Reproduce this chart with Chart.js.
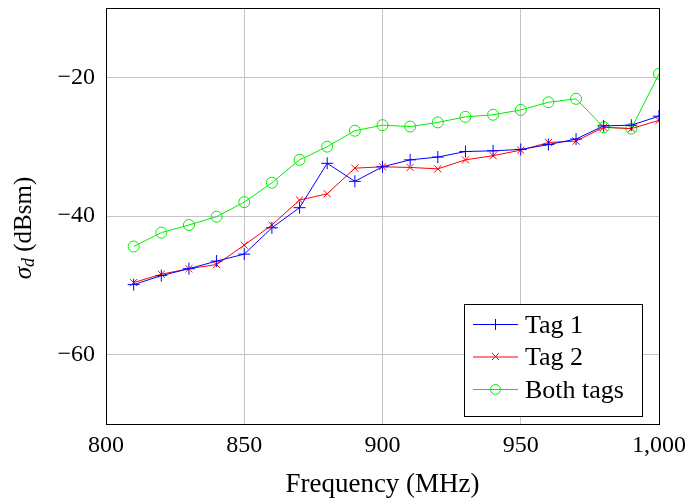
<!DOCTYPE html>
<html>
<head>
<meta charset="utf-8">
<script src="https://cdn.jsdelivr.net/npm/chart.js@4"></script>
<style>
  html, body { margin: 0; padding: 0; background: #fff; }
  #wrap { width: 690px; height: 499px; }
</style>
</head>
<body>
<div id="wrap"><canvas id="chart" width="690" height="499"></canvas></div>
<script>
// frequencies (MHz)
const freqs = [810, 820, 830, 840, 850, 860, 870, 880, 890, 900, 910, 920, 930, 940, 950, 960, 970, 980, 990, 1000];
// sigma_d (dBsm)
const tag1 = [-49.9, -48.6, -47.6, -46.5, -45.5, -41.7, -38.8, -32.4, -35.0, -32.9, -31.9, -31.5, -30.7, -30.6, -30.4, -29.7, -28.9, -27.0, -26.9, -25.6];
const tag2 = [-49.6, -48.4, -47.6, -47.0, -44.2, -41.3, -37.7, -36.8, -33.1, -32.9, -33.0, -33.2, -31.9, -31.3, -30.5, -29.4, -29.2, -27.2, -27.4, -26.2];
const bothTags = [-44.4, -42.4, -41.3, -40.1, -38.0, -35.2, -31.9, -30.0, -27.7, -26.9, -27.1, -26.5, -25.7, -25.4, -24.7, -23.6, -23.1, -27.2, -27.4, -19.5];

const xTicks = [800, 850, 900, 950, 1000];
const xTickLabels = ['800', '850', '900', '950', '1,000'];
const yTicks = [-60, -40, -20];

const serif = '"Liberation Serif", "Times New Roman", serif';

const toPoints = (vals) => vals.map((v, i) => ({ x: freqs[i], y: v }));

// frame, axis titles (y one has a subscript), legend inside the plot
const extras = {
  id: 'extras',
  afterDraw(chart) {
    const ctx = chart.ctx;
    const a = chart.chartArea;
    ctx.save();
    ctx.strokeStyle = '#000';
    ctx.lineWidth = 1;
    ctx.strokeRect(a.left + 0.5, a.top + 0.5, a.right - a.left, a.bottom - a.top);

    // x title
    ctx.fillStyle = '#000';
    ctx.font = '27px ' + serif;
    ctx.textAlign = 'center';
    ctx.textBaseline = 'alphabetic';
    ctx.fillText('Frequency (MHz)', (a.left + a.right) / 2, 492);
    ctx.textAlign = 'left';

    // y title: sigma_d (dBsm)
    ctx.translate(24, 228);
    ctx.rotate(-Math.PI / 2);
    ctx.textBaseline = 'middle';
    ctx.font = 'italic 25px ' + serif;
    const w1 = ctx.measureText('σ').width;
    ctx.font = 'italic 18px ' + serif;
    const w2 = ctx.measureText('d').width;
    ctx.font = '25px ' + serif;
    const w3 = ctx.measureText(' (dBsm)').width;
    let x0 = -(w1 + w2 + w3) / 2;
    ctx.font = 'italic 25px ' + serif;
    ctx.fillText('σ', x0, 0);
    ctx.font = 'italic 18px ' + serif;
    ctx.fillText('d', x0 + w1, 5);
    ctx.font = '25px ' + serif;
    ctx.fillText(' (dBsm)', x0 + w1 + w2, 0);
    ctx.restore();

    // legend box
    ctx.save();
    const bx = 464, by = 304, bw = 178, bh = 112;
    ctx.fillStyle = '#fff';
    ctx.fillRect(bx, by, bw, bh);
    ctx.strokeStyle = '#000';
    ctx.lineWidth = 1;
    ctx.strokeRect(bx + 0.5, by + 0.5, bw, bh);
    chart.data.datasets.forEach((ds, i) => {
      const y = by + 20 + i * 32.5;
      ctx.strokeStyle = ds.borderColor;
      ctx.lineWidth = 1;
      ctx.beginPath();
      ctx.moveTo(bx + 9, y + 0.5);
      ctx.lineTo(bx + 54, y + 0.5);
      ctx.stroke();
      const cx = bx + 31.5;
      ctx.beginPath();
      if (ds.pointStyle === 'cross') {
        ctx.moveTo(cx - 5, y + 0.5); ctx.lineTo(cx + 5, y + 0.5);
        ctx.moveTo(cx, y - 5); ctx.lineTo(cx, y + 6);
      } else if (ds.pointStyle === 'crossRot') {
        ctx.moveTo(cx - 3.5, y - 3.5); ctx.lineTo(cx + 3.5, y + 3.5);
        ctx.moveTo(cx + 3.5, y - 3.5); ctx.lineTo(cx - 3.5, y + 3.5);
      } else {
        ctx.arc(cx, y + 0.5, 5, 0, Math.PI * 2);
      }
      ctx.stroke();
      ctx.fillStyle = '#000';
      ctx.font = '26px ' + serif;
      ctx.textBaseline = 'middle';
      ctx.fillText(ds.label, bx + 61, y + 2);
    });
    ctx.restore();
  }
};

new Chart(document.getElementById('chart'), {
  type: 'line',
  data: {
    datasets: [
      {
        label: 'Tag 1',
        data: toPoints(tag1),
        borderColor: '#0000ff',
        backgroundColor: '#0000ff',
        borderWidth: 1,
        pointStyle: 'cross',
        pointRadius: 6,
        pointBorderWidth: 1,
      },
      {
        label: 'Tag 2',
        data: toPoints(tag2),
        borderColor: '#ff0000',
        backgroundColor: '#ff0000',
        borderWidth: 1,
        pointStyle: 'crossRot',
        pointRadius: 5,
        pointBorderWidth: 1,
      },
      {
        label: 'Both tags',
        data: toPoints(bothTags),
        borderColor: '#00ee00',
        backgroundColor: 'rgba(0,0,0,0)',
        borderWidth: 1,
        pointStyle: 'circle',
        pointRadius: 5.5,
        pointBorderWidth: 1,
      },
    ],
  },
  options: {
    responsive: false,
    animation: false,
    layout: { padding: { top: 8, right: 31, left: 0, bottom: 0 } },
    plugins: { legend: { display: false }, tooltip: { enabled: false } },
    scales: {
      x: {
        type: 'linear',
        min: 800,
        max: 1000,
        afterBuildTicks: (s) => { s.ticks = xTicks.map((v) => ({ value: v })); },
        afterFit: (s) => { s.height = 75; s.paddingLeft = 0; s.paddingRight = 0; },
        grid: { color: (c) => (c.tick && (c.tick.value === 800 || c.tick.value === 1000) ? 'rgba(0,0,0,0)' : '#c4c4c4'), drawTicks: false },
        border: { color: '#000' },
        ticks: {
          color: '#000',
          padding: 7,
          font: { family: serif, size: 24 },
          callback: (v) => xTickLabels[xTicks.indexOf(v)],
          maxRotation: 0,
        },
      },
      y: {
        min: -70,
        max: -10,
        afterBuildTicks: (s) => { s.ticks = yTicks.map((v) => ({ value: v })); },
        afterFit: (s) => { s.width = 106; s.paddingTop = 0; s.paddingBottom = 0; },
        grid: { color: '#c4c4c4', drawTicks: false },
        border: { color: '#000' },
        ticks: {
          color: '#000',
          padding: 11,
          font: { family: serif, size: 24 },
          callback: (v) => (v < 0 ? '\u2212' + Math.abs(v) : String(v)),
        },
      },
    },
  },
  plugins: [extras],
});
</script>
</body>
</html>
